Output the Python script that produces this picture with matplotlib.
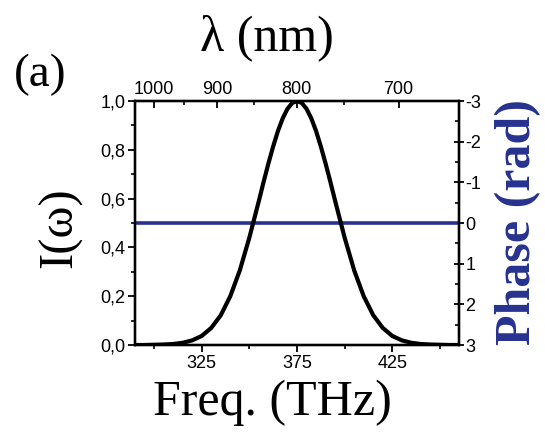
import matplotlib
matplotlib.use("Agg")
import matplotlib.pyplot as plt
from matplotlib.ticker import MultipleLocator, FixedLocator

plt.rcParams["axes.unicode_minus"] = False

# Spectrum: frequency (THz), normalised intensity, spectral phase (rad)
freq = [290, 295, 300, 305, 310, 315, 320, 325, 330, 335, 340, 345,
        350, 355, 357.5, 360, 362.5, 365, 367.5, 370, 372.5, 375,
        377.5, 380, 382.5, 385, 387.5, 390, 392.5, 395, 400, 405,
        410, 415, 420, 425, 430, 435, 440, 445, 450, 455, 460]
intensity = [0.000, 0.000, 0.001, 0.002, 0.004, 0.009, 0.019, 0.037,
             0.070, 0.122, 0.200, 0.306, 0.440, 0.591, 0.669, 0.744,
             0.814, 0.877, 0.929, 0.968, 0.992, 1.000, 0.992, 0.968,
             0.929, 0.877, 0.814, 0.744, 0.669, 0.591, 0.440, 0.306,
             0.200, 0.122, 0.070, 0.037, 0.019, 0.009, 0.004, 0.002,
             0.001, 0.000, 0.000]
phase = [0.0] * len(freq)

freq_ticks = [325, 375, 425]
freq_minor = [300, 350, 400, 450]
intensity_ticks = [0.0, 0.2, 0.4, 0.6, 0.8, 1.0]
intensity_labels = ["0,0", "0,2", "0,4", "0,6", "0,8", "1,0"]
phase_ticks = [-3, -2, -1, 0, 1, 2, 3]
phase_labels = ["-3", "-2", "-1", "0", "1", "2", "3"]
wavelength_ticks = [1000, 900, 800, 700]
wavelength_minor = [950, 850, 750]

C_NM_THZ = 299792.458  # speed of light in nm*THz

BLUE = "#27318f"
tick_font = {"family": "Liberation Sans", "size": 13}
serif = "Liberation Serif"

fig = plt.figure(figsize=(5.45, 4.34), dpi=100)
ax = fig.add_axes([135 / 545, 1 - 345 / 434, (459 - 135) / 545, (345 - 101) / 434])

# right axis: spectral phase
ax2 = ax.twinx()
ax2.plot(freq, phase, color=BLUE, lw=2.6, solid_capstyle="butt")
ax2.set_ylim(3, -3)
ax2.yaxis.set_major_locator(FixedLocator(phase_ticks))
ax2.set_yticklabels(phase_labels, fontdict=tick_font)
ax2.yaxis.set_minor_locator(MultipleLocator(0.5))
ax2.tick_params(axis="y", which="major", direction="inout", length=7, width=1.3, pad=1)
ax2.tick_params(axis="y", which="minor", direction="in", length=3, width=1.2)

# left axis: spectral intensity (drawn above the phase line)
ax.set_zorder(ax2.get_zorder() + 1)
ax.patch.set_visible(False)
ax.plot(freq, intensity, color="black", lw=3.0, solid_joinstyle="round")
ax.set_xlim(290, 460)
ax.set_ylim(0, 1)
ax.xaxis.set_major_locator(FixedLocator(freq_ticks))
ax.set_xticklabels([str(t) for t in freq_ticks], fontdict=tick_font)
ax.xaxis.set_minor_locator(FixedLocator(freq_minor))
ax.yaxis.set_major_locator(FixedLocator(intensity_ticks))
ax.set_yticklabels(intensity_labels, fontdict=tick_font)
ax.yaxis.set_minor_locator(MultipleLocator(0.1))
ax.tick_params(axis="both", which="major", direction="out", length=5, width=1.3, pad=2)
ax.tick_params(axis="both", which="minor", direction="out", length=3, width=1.2)

# top axis: wavelength
ax3 = ax.twiny()
ax3.set_xlim(ax.get_xlim())
ax3.xaxis.set_major_locator(FixedLocator([C_NM_THZ / w for w in wavelength_ticks]))
ax3.set_xticklabels([str(w) for w in wavelength_ticks], fontdict=tick_font)
ax3.xaxis.set_minor_locator(FixedLocator([C_NM_THZ / w for w in wavelength_minor]))
ax3.tick_params(axis="x", which="major", direction="in", length=5, width=1.3, pad=2)
ax3.tick_params(axis="x", which="minor", direction="in", length=3, width=1.2)
ax3.set_zorder(ax.get_zorder() + 1)
ax3.patch.set_visible(False)

for a in (ax, ax2, ax3):
    for s in a.spines.values():
        s.set_linewidth(1.6)

# axis titles
fig.text(272 / 545, 1 - 403 / 434, "Freq. (THz)", family=serif, size=36,
         ha="center", va="center")
fig.text(267 / 545, 1 - 38 / 434, "λ (nm)", family=serif, size=36,
         ha="center", va="center")
fig.text(60 / 545, 1 - 228 / 434, "I(ω)", family=serif, size=35,
         ha="center", va="center", rotation=90)
fig.text(518 / 545, 1 - 222 / 434, "Phase (rad)", family=serif, size=36,
         weight="bold", color=BLUE, ha="center", va="center", rotation=90)
fig.text(40 / 545, 1 - 75 / 434, "(a)", family=serif, size=34,
         ha="center", va="center")

fig.savefig("out.png", dpi=100, facecolor="white")
